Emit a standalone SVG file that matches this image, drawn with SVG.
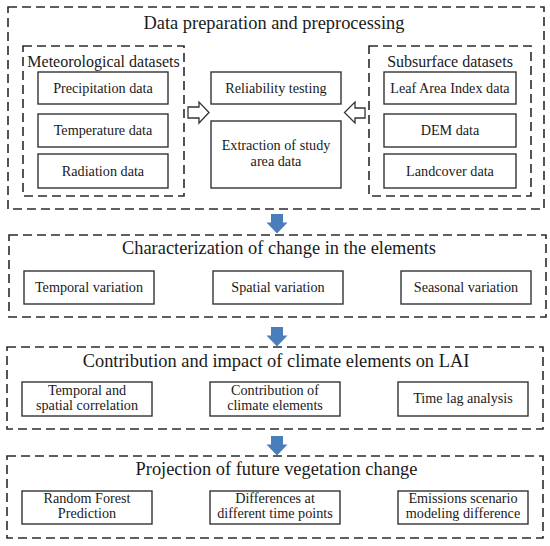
<svg xmlns="http://www.w3.org/2000/svg" width="550" height="546" viewBox="0 0 550 546">
<style>
.dash{fill:none;stroke:#2b2b2b;stroke-width:1.6;stroke-dasharray:9 5}
.box{fill:#fff;stroke:#333;stroke-width:1.4}
text{font-family:'Liberation Serif','DejaVu Serif',serif;fill:#1a1a1a;text-anchor:middle}
.h{font-size:18.4px}
.s{font-size:16px}
.t{font-size:14.2px}
.hollow{fill:#fff;stroke:#333;stroke-width:1.3}
.blue{fill:#4a7ebb}
</style>
<rect width="550" height="546" fill="#fff"/>
<g font-family="Liberation Serif, DejaVu Serif, serif">
<g id="sec1">
<rect class="dash" x="8" y="7" width="536" height="202"/>
<text class="h" x="274" y="29">Data preparation and preprocessing</text>
</g>
<g id="meteo">
<rect class="dash" x="23" y="46" width="161" height="150"/>
<text class="s" x="103.5" y="67">Meteorological datasets</text>
</g>
<g id="precip"><rect class="box" x="38" y="72" width="130" height="32"/><text class="t" x="103" y="92.7">Precipitation data</text></g>
<g id="temp"><rect class="box" x="38" y="114" width="130" height="33"/><text class="t" x="103" y="134.5">Temperature data</text></g>
<g id="rad"><rect class="box" x="38" y="154" width="130" height="34"/><text class="t" x="103" y="175.5">Radiation data</text></g>
<g id="reliab"><rect class="box" x="211" y="72" width="130" height="32"/><text class="t" x="276" y="92.7">Reliability testing</text></g>
<g id="extract"><rect class="box" x="211" y="121" width="130" height="67"/><text class="t" x="276" y="150">Extraction of study</text><text class="t" x="276" y="165.5">area data</text></g>
<g id="subsurf">
<rect class="dash" x="369" y="46" width="162" height="150"/>
<text class="s" x="450" y="67">Subsurface datasets</text>
</g>
<g id="lai"><rect class="box" x="384" y="72" width="132" height="32"/><text class="t" x="450" y="92.7">Leaf Area Index data</text></g>
<g id="dem"><rect class="box" x="384" y="114" width="132" height="33"/><text class="t" x="450" y="134.5">DEM data</text></g>
<g id="land"><rect class="box" x="384" y="154" width="132" height="34"/><text class="t" x="450" y="175.5">Landcover data</text></g>

<g id="sec2">
<rect class="dash" x="9" y="235" width="537" height="82"/>
<text class="h" x="279" y="254">Characterization of change in the elements</text>
</g>
<g id="tv"><rect class="box" x="24" y="271" width="130" height="33"/><text class="t" x="89" y="292">Temporal variation</text></g>
<g id="sv"><rect class="box" x="213" y="271" width="130" height="33"/><text class="t" x="278" y="292">Spatial variation</text></g>
<g id="ssv"><rect class="box" x="401" y="271" width="130" height="33"/><text class="t" x="466" y="292">Seasonal variation</text></g>

<g id="sec3">
<rect class="dash" x="7" y="347" width="536" height="82"/>
<text class="h" x="276" y="367">Contribution and impact of climate elements on LAI</text>
</g>
<g id="tsc"><rect class="box" x="22" y="382" width="130" height="34"/><text class="t" x="87" y="395.3">Temporal and</text><text class="t" x="87" y="410.3">spatial correlation</text></g>
<g id="cce"><rect class="box" x="210" y="382" width="130" height="34"/><text class="t" x="275" y="395.3">Contribution of</text><text class="t" x="275" y="410.3">climate elements</text></g>
<g id="tla"><rect class="box" x="398" y="382" width="130" height="34"/><text class="t" x="463" y="403.3">Time lag analysis</text></g>

<g id="sec4">
<rect class="dash" x="7" y="456" width="536" height="82"/>
<text class="h" x="276.5" y="475">Projection of future vegetation change</text>
</g>
<g id="rfp"><rect class="box" x="22" y="491" width="130" height="33"/><text class="t" x="87" y="503.3">Random Forest</text><text class="t" x="87" y="518.3">Prediction</text></g>
<g id="dtp"><rect class="box" x="210" y="491" width="130" height="33"/><text class="t" x="275" y="503.3">Differences at</text><text class="t" x="275" y="518.3">different time points</text></g>
<g id="esm"><rect class="box" x="398" y="491" width="130" height="33"/><text class="t" x="463" y="503.3">Emissions scenario</text><text class="t" x="463" y="518.3">modeling difference</text></g>
</g>
<g id="connectors">
<path class="hollow" d="M188,107 L199,107 L199,102 L209,112.5 L199,123 L199,118 L188,118 Z"/>
<path class="hollow" d="M365,108 L355,108 L355,102 L344.5,112.5 L355,123 L355,118 L365,118 Z"/>
<path class="blue" d="M271,214 L283,214 L283,222.5 L287.5,222.5 L277,233.5 L266.5,222.5 L271,222.5 Z"/>
<path class="blue" d="M271,327 L283,327 L283,335.5 L287.5,335.5 L277,346.5 L266.5,335.5 L271,335.5 Z"/>
<path class="blue" d="M271,436 L283,436 L283,444.5 L287.5,444.5 L277,455.5 L266.5,444.5 L271,444.5 Z"/>
</g>
</svg>
